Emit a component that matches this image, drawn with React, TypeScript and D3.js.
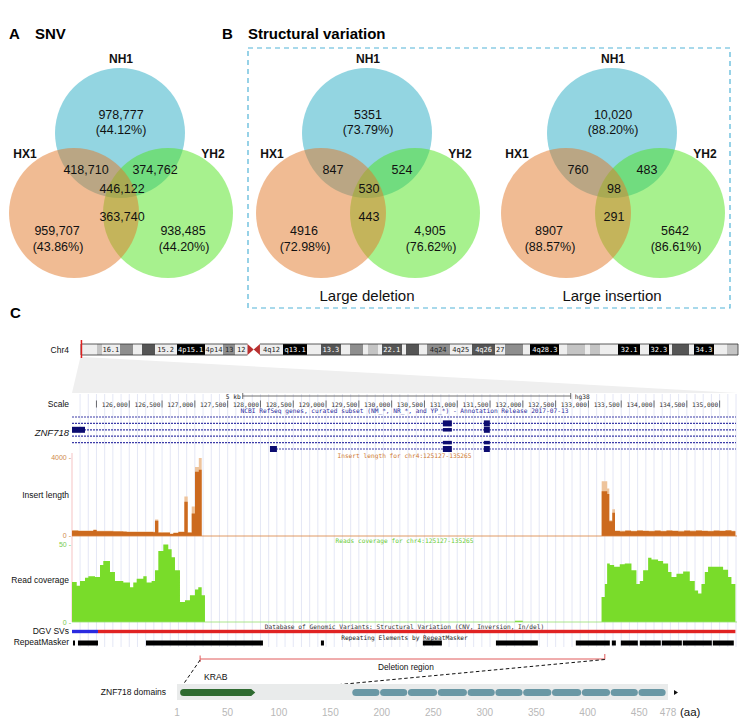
import React from 'react';
import * as d3 from 'd3';

const FONT = 'Liberation Sans, Arial, Helvetica, sans-serif';
const MONO = 'DejaVu Sans Mono, Liberation Mono, monospace';

// ---------- Panel A / B : Venn data ----------
const vennSetNames = ['NH1', 'HX1', 'YH2'];
const snvUnique = ['978,777', '959,707', '938,485'];
const snvUniquePct = ['(44.12%)', '(43.86%)', '(44.20%)'];
const snvShared = ['418,710', '374,762', '446,122', '363,740']; // NH1∩HX1, NH1∩YH2, all three, HX1∩YH2
const delUnique = ['5351', '4916', '4,905'];
const delUniquePct = ['(73.79%)', '(72.98%)', '(76.62%)'];
const delShared = ['847', '524', '530', '443'];
const insUnique = ['10,020', '8907', '5642'];
const insUniquePct = ['(88.20%)', '(88.57%)', '(86.61%)'];
const insShared = ['760', '483', '98', '291'];

// ---------- Panel C : chromosome 4 ideogram (Mb) ----------
const chr4Length = 190.21;
const chr4Bands: [number, number, string, string][] = [
  [0, 4.5, 'gneg', ''], [4.5, 6, 'gpos25', ''], [6, 11.3, 'gneg', '16.1'], [11.3, 15, 'gpos50', ''],
  [15, 17.7, 'gneg', ''], [17.7, 21.3, 'gpos75', ''], [21.3, 27.7, 'gneg', '15.2'], [27.7, 35.8, 'gpos100', '4p15.1'],
  [35.8, 41.2, 'gneg', '4p14'], [41.2, 44.6, 'gpos50', '13'], [44.6, 48.2, 'gneg', '12'], [48.2, 50, 'acenp', ''],
  [50, 51.8, 'acenq', ''], [51.8, 58.5, 'gneg', '4q12'], [58.5, 65.5, 'gpos100', 'q13.1'], [65.5, 69.4, 'gneg', ''],
  [69.4, 75.3, 'gpos75', '13.3'], [75.3, 78, 'gneg', ''], [78, 81.5, 'gpos50', ''], [81.5, 83.2, 'gneg', ''],
  [83.2, 86, 'gpos25', ''], [86, 87.1, 'gneg', ''], [87.1, 92.8, 'gpos75', '22.1'], [92.8, 94.2, 'gneg', ''],
  [94.2, 97.9, 'gpos75', ''], [97.9, 100.1, 'gneg', ''], [100.1, 106.7, 'gpos50', '4q24'], [106.7, 113.2, 'gneg', '4q25'],
  [113.2, 119.9, 'gpos75', '4q26'], [119.9, 122.8, 'gneg', '27'], [122.8, 127.9, 'gpos50', ''], [127.9, 130.1, 'gneg', ''],
  [130.1, 138.5, 'gpos100', '4q28.3'], [138.5, 140.6, 'gneg', ''], [140.6, 145.9, 'gpos25', ''], [145.9, 147.5, 'gneg', ''],
  [147.5, 150.3, 'gpos25', ''], [150.3, 155.6, 'gneg', ''], [155.6, 161.8, 'gpos100', '32.1'], [161.8, 164.5, 'gneg', ''],
  [164.5, 170.1, 'gpos100', '32.3'], [170.1, 171.2, 'gneg', ''], [171.2, 176.1, 'gpos75', ''], [176.1, 177.5, 'gneg', ''],
  [177.5, 183.2, 'gpos100', '34.3'], [183.2, 187.1, 'gneg', ''], [187.1, 190.21, 'gpos25', ''],
];
const highlightMb = 0.13;

// ---------- genome window (bp) ----------
const regionStart = 125127;
const regionEnd = 135265;
const scaleBar = [127730, 132730];

// gene transcripts: [txStart, txEnd]
const txStarts = [125127, 125127, 125127, 125127, 125127, 128145];
const txEnds = [135265, 135265, 135265, 135265, 135265, 135265];
// exons: [row, start, end, thick(1)/thin(0)]
const exons: [number, number, number, number][] = [
  [1, 130781, 130918, 1], [1, 131406, 131497, 1],
  [2, 125127, 125325, 1], [2, 130781, 130918, 0], [2, 131406, 131497, 1],
  [4, 130781, 130918, 0], [4, 131406, 131497, 0],
  [5, 128145, 128251, 1], [5, 130781, 130918, 1], [5, 131406, 131497, 1],
];

// insert length bins (start bp), value and max
const insertStarts = [125127, 125223, 125275, 125452, 125503, 125757, 125909, 125961, 126164, 126367, 126392, 126443, 126519, 126621, 126672, 126748, 126840, 126891, 126952, 127002, 127060, 127104,
  133202, 133287, 133318, 133364, 133405, 133480, 133560, 133650, 133740, 133830, 133920, 134010, 134100, 134190, 134280, 134370, 134460, 134550, 134640, 134730, 134820, 134910, 135000, 135090, 135180];
const insertValues = [270, 250, 255, 300, 240, 225, 210, 205, 205, 190, 770, 170, 170, 100, 150, 200, 1730, 170, 1140, 3250, 3350, 0,
  2270, 2130, 750, 1180, 250, 230, 260, 240, 270, 250, 235, 260, 240, 270, 250, 230, 265, 245, 270, 250, 235, 265, 250, 275, 240];
const insertMax = [300, 280, 280, 330, 270, 250, 240, 230, 230, 220, 840, 200, 200, 130, 180, 230, 2000, 200, 1500, 3500, 3950, 0,
  2770, 2400, 800, 1350, 280, 260, 290, 270, 300, 280, 265, 290, 270, 300, 280, 260, 295, 275, 300, 280, 265, 295, 280, 305, 270];
const insertEnd = 135240;

// read coverage bins
const covStarts = [125127, 125199, 125249, 125325, 125376, 125478, 125554, 125604, 125706, 125782, 125909, 126011, 126061, 126113, 126214, 126265, 126341, 126392, 126443, 126519, 126595, 126646, 126697, 126773, 126849, 126925, 127002, 127052, 127104, 127154,
  131880, 132000,
  133200, 133250, 133285, 133326, 133392, 133478, 133554, 133656, 133732, 133783, 133834, 133910, 133961, 134062, 134139, 134215, 134266, 134342, 134444, 134545, 134621, 134672, 134723, 134774, 134824, 134900, 134977, 135053, 135129, 135180];
const covValues = [25.3, 23, 26, 28, 29, 28.5, 36, 38.6, 31.7, 26, 25, 22, 25, 27.4, 29, 25, 26, 32.7, 45, 49, 46, 41, 32.7, 12.7, 13.7, 17, 20.5, 22, 17, 0,
  0.8, 0,
  15.8, 24, 37, 36, 35, 36.5, 37, 32.7, 24, 26, 32.7, 40.7, 39.5, 38.6, 37, 31.7, 28.5, 30.6, 32, 26, 20, 18, 24, 31.7, 35, 35, 35, 33, 28.5, 24];
const covEnd = 135240;

// DGV SVs
const dgvStarts = [125127, 125523];
const dgvEnds = [125523, 135240];
const dgvColors = ['#2a2ae0', '#e02222'];

// RepeatMasker elements
const rmStarts = [125142, 125218, 126255, 128922, 130476, 131590, 132808, 133357, 133494, 133783, 134119, 134439, 134896];
const rmEnds = [125173, 125523, 128038, 128968, 130766, 132229, 133326, 133418, 133753, 134103, 134424, 134881, 135216];

// deletion region (bp)
const deletionRegion = [127080, 133250];

// protein domains (aa)
const proteinLength = 478;
const krabDomain = [4, 77];
const zfStarts = [171, 198, 225, 254, 283, 310, 337, 365, 394, 422, 449];
const zfEnd = 476;
const aaTicks = [1, 50, 100, 150, 200, 250, 300, 350, 400, 450, 478];

const bandFill: Record<string, string> = {
  gneg: '#eeeeee', gpos25: '#c4c4c4', gpos50: '#8e8e8e', gpos75: '#555555', gpos100: '#000000',
};

type Bin = { s: number; v: number };

function Venn({ cx, unique, pct, shared, title }: { cx: number; unique: string[]; pct: string[]; shared: string[]; title: string }) {
  const r = 65;
  const cyTop = 133, cyBot = 213;
  const circles = [
    { name: 'NH1', x: cx, y: cyTop, fill: 'rgb(40,172,196)' },
    { name: 'YH2', x: cx + 48, y: cyBot, fill: 'rgb(80,228,30)' },
    { name: 'HX1', x: cx - 46, y: cyBot, fill: 'rgb(225,120,40)' },
  ];
  const t = (x: number, y: number, s: string, bold = false, size = 12.5) => (
    <text x={x} y={y} textAnchor="middle" dominantBaseline="central" fontFamily={FONT} fontSize={size} fontWeight={bold ? 'bold' : 'normal'} fill="#111">{s}</text>
  );
  return (
    <g>
      {circles.map((c) => <circle key={c.name} cx={c.x} cy={c.y} r={r} fill={c.fill} fillOpacity={0.5} />)}
      {t(cx + 1, 59, vennSetNames[0], true, 12)}
      {t(cx - 95, 154, vennSetNames[1], true, 12)}
      {t(cx + 93, 154, vennSetNames[2], true, 12)}
      {t(cx + 1, 115, unique[0])}
      {t(cx + 1, 130, pct[0])}
      {t(cx - 63, 231, unique[1])}
      {t(cx - 62, 247, pct[1])}
      {t(cx + 63, 231, unique[2])}
      {t(cx + 64, 247, pct[2])}
      {t(cx - 34, 170, shared[0])}
      {t(cx + 35, 170, shared[1])}
      {t(cx + 2, 189, shared[2])}
      {t(cx + 2, 217, shared[3])}
      {title && t(cx, 295, title, false, 15)}
    </g>
  );
}

export default function App() {
  const xG = d3.scaleLinear().domain([regionStart, regionEnd]).range([72, 737]);
  const chrX = d3.scaleLinear().domain([0, chr4Length]).range([81, 738]);
  const yIns = d3.scaleLinear().domain([0, 4000]).range([536, 457]);
  const yCov = d3.scaleLinear().domain([0, 50]).range([622, 543]);
  const xAA = d3.scaleLinear().domain([1, proteinLength]).range([177, 668]);

  const gridlines = d3.range(125250, regionEnd, 125);
  const scaleTicks = d3.range(125500, 135001, 500);
  const fmt = d3.format(',');

  const ideoY = 344, ideoH = 11;
  const centerX = 404.5;
  const rowY = (i: number) => 417 + i * 6.4;

  const insVal: Bin[] = insertStarts.map((s, i) => ({ s, v: insertValues[i] }));
  insVal.push({ s: insertEnd, v: 0 });
  const insMx: Bin[] = insertStarts.map((s, i) => ({ s, v: insertMax[i] }));
  insMx.push({ s: insertEnd, v: 0 });
  const cov: Bin[] = covStarts.map((s, i) => ({ s, v: covValues[i] }));
  cov.push({ s: covEnd, v: 0 });

  const insArea = d3.area<Bin>().x((d) => xG(d.s)).y0(yIns(0)).y1((d) => yIns(d.v)).curve(d3.curveStepAfter);
  const covArea = d3.area<Bin>().x((d) => xG(d.s)).y0(yCov(0)).y1((d) => yCov(d.v)).curve(d3.curveStepAfter);

  const hx = chrX(highlightMb);
  const lbl = (x: number, y: number, s: string, extra: any = {}) => (
    <text x={x} y={y} textAnchor="end" dominantBaseline="central" fontFamily={FONT} fontSize={8.5} fill="#111" {...extra}>{s}</text>
  );
  const tiny = (x: number, y: number, s: string, fill: string, anchor = 'middle') => (
    <text x={x} y={y} textAnchor={anchor} dominantBaseline="central" fontFamily={MONO} fontSize={6.2} fill={fill}>{s}</text>
  );
  const axisLbl = (y: number, s: string, fill: string) => (
    <text x={71} y={y} textAnchor="end" dominantBaseline="central" fontFamily={FONT} fontSize={7} fill={fill}>{s}</text>
  );

  const krabX0 = xAA(krabDomain[0]), krabX1 = xAA(krabDomain[1]);
  const pY = 692.5, pH = 3.6;

  return (
    <svg width={750} height={722} style={{ position: 'absolute', left: 0, top: 0, background: '#fff' }}>
      <rect x={0} y={0} width={750} height={722} fill="#fff" />
      {/* titles */}
      <text x={9} y={33} dominantBaseline="central" fontFamily={FONT} fontSize={15} fontWeight="bold">A</text>
      <text x={35} y={33} dominantBaseline="central" fontFamily={FONT} fontSize={15} fontWeight="bold">SNV</text>
      <text x={222} y={33} dominantBaseline="central" fontFamily={FONT} fontSize={15} fontWeight="bold">B</text>
      <text x={248} y={33} dominantBaseline="central" fontFamily={FONT} fontSize={15} fontWeight="bold">Structural variation</text>
      <rect x={248} y={48} width={482} height={260} fill="none" stroke="#52b4d8" strokeWidth={1.2} strokeDasharray="5,4" />

      <Venn cx={120} unique={snvUnique} pct={snvUniquePct} shared={snvShared} title="" />
      <Venn cx={367} unique={delUnique} pct={delUniquePct} shared={delShared} title="Large deletion" />
      <Venn cx={612} unique={insUnique} pct={insUniquePct} shared={insShared} title="Large insertion" />

      {/* Panel C */}
      <text x={10} y={312} dominantBaseline="central" fontFamily={FONT} fontSize={15} fontWeight="bold">C</text>

      {/* zoom wedge */}
      <polygon points={`${hx - 1},${ideoY + ideoH + 2} ${hx + 2},${ideoY + ideoH + 2} 738,393 72,393`} fill="#efefef" />

      {/* ideogram */}
      {lbl(69, ideoY + ideoH / 2, 'Chr4')}
      {chr4Bands.map(([s, e, st, l], i) => {
        const x0 = chrX(s), x1 = chrX(e);
        if (st === 'acenp') {
          return <polygon key={i} points={`${x0},${ideoY} ${x1},${ideoY + ideoH / 2} ${x0},${ideoY + ideoH}`} fill="#b83030" />;
        }
        if (st === 'acenq') {
          return <polygon key={i} points={`${x1},${ideoY} ${x0},${ideoY + ideoH / 2} ${x1},${ideoY + ideoH}`} fill="#b83030" />;
        }
        return (
          <g key={i}>
            <rect x={x0} y={ideoY} width={x1 - x0 + 0.3} height={ideoH} fill={bandFill[st]} shapeRendering="crispEdges" />
            {l && <text x={(x0 + x1) / 2} y={ideoY + ideoH / 2 + 0.5} textAnchor="middle" dominantBaseline="central" fontFamily={MONO} fontSize={7} fill={st === 'gpos75' || st === 'gpos100' ? '#fff' : '#222'}>{l}</text>}
          </g>
        );
      })}
      <path d={`M${chrX(48.2)},${ideoY} L${chrX(0)},${ideoY} L${chrX(0)},${ideoY + ideoH} L${chrX(48.2)},${ideoY + ideoH}`} fill="none" stroke="#333" strokeWidth={0.8} />
      <path d={`M${chrX(51.8)},${ideoY} L${chrX(chr4Length)},${ideoY} L${chrX(chr4Length)},${ideoY + ideoH} L${chrX(51.8)},${ideoY + ideoH}`} fill="none" stroke="#333" strokeWidth={0.8} />
      <line x1={hx} x2={hx} y1={ideoY - 4} y2={ideoY + ideoH + 3} stroke="#e02020" strokeWidth={1.5} />

      {/* gridlines */}
      {gridlines.map((g) => <line key={g} x1={xG(g)} x2={xG(g)} y1={394} y2={647} stroke="#dde1f2" strokeWidth={0.8} />)}

      {/* scale track */}
      {lbl(69, 404, 'Scale')}
      {tiny(xG(scaleBar[0]) - 2, 396, '5 kb', '#222', 'end')}
      <line x1={xG(scaleBar[0])} x2={xG(scaleBar[1])} y1={396} y2={396} stroke="#333" strokeWidth={0.7} />
      <line x1={xG(scaleBar[0])} x2={xG(scaleBar[0])} y1={393} y2={399} stroke="#333" strokeWidth={0.7} />
      <line x1={xG(scaleBar[1])} x2={xG(scaleBar[1])} y1={393} y2={399} stroke="#333" strokeWidth={0.7} />
      {tiny(xG(scaleBar[1]) + 4, 396, 'hg38', '#222', 'start')}
      {scaleTicks.map((t) => (
        <g key={t}>
          <line x1={xG(t)} x2={xG(t)} y1={400.5} y2={407.5} stroke="#333" strokeWidth={0.7} />
          {t >= 126000 && tiny(xG(t) - 1.5, 404, fmt(t), '#333', 'end')}
        </g>
      ))}
      {tiny(centerX, 410.5, 'NCBI RefSeq genes, curated subset (NM_*, NR_*, and YP_*) - Annotation Release 2017-07-13', '#2a2a9c')}

      {/* gene track */}
      {lbl(69, 432, 'ZNF718', { fontStyle: 'italic', fontSize: 9.5 })}
      {txStarts.map((s, i) => (
        <line key={i} x1={xG(s)} x2={xG(txEnds[i]) - 1} y1={rowY(i)} y2={rowY(i)} stroke="#3c3ca8" strokeWidth={1.2} strokeDasharray="2,1" />
      ))}
      {exons.map(([row, s, e, thick], i) => {
        const h = thick ? 6 : 3.5;
        return <rect key={i} x={xG(s)} y={rowY(row) - h / 2} width={xG(e) - xG(s)} height={h} fill="#0c0c70" />;
      })}

      {/* insert length track */}
      <line x1={72} x2={72} y1={453} y2={622} stroke="#f2b4b4" strokeWidth={0.8} />
      {tiny(centerX, 455, 'Insert length for chr4:125127-135265', '#d07a30')}
      {axisLbl(457, '4000 -', '#d08a4a')}
      {axisLbl(535, '0 -', '#d08a4a')}
      {lbl(69, 495, 'Insert length')}
      <path d={insArea(insMx) || ''} fill="#eec49c" />
      <path d={insArea(insVal) || ''} fill="#cc6a1e" />
      <line x1={72} x2={737} y1={yIns(0)} y2={yIns(0)} stroke="#d8823c" strokeWidth={0.8} />

      {/* read coverage track */}
      {tiny(centerX, 540.5, 'Reads coverage for chr4:125127-135265', '#6acc36')}
      {axisLbl(544, '50 -', '#7acc50')}
      {axisLbl(622, '0 -', '#7acc50')}
      {lbl(69, 580, 'Read coverage')}
      <path d={covArea(cov) || ''} fill="#79dc2a" />
      <line x1={72} x2={737} y1={yCov(0)} y2={yCov(0)} stroke="#98e070" strokeWidth={0.8} />

      {/* DGV */}
      {tiny(centerX, 626, 'Database of Genomic Variants: Structural Variation (CNV, Inversion, In/del)', '#333')}
      {lbl(69, 631, 'DGV SVs')}
      {dgvStarts.map((s, i) => (
        <rect key={i} x={xG(s)} y={629.8} width={xG(dgvEnds[i]) - xG(s)} height={3.4} fill={dgvColors[i]} />
      ))}

      {/* RepeatMasker */}
      {tiny(centerX, 637, 'Repeating Elements by RepeatMasker', '#222')}
      {lbl(69, 642, 'RepeatMasker')}
      {rmStarts.map((s, i) => (
        <rect key={i} x={xG(s)} y={640.5} width={Math.max(1.2, xG(rmEnds[i]) - xG(s))} height={5} fill="#000" />
      ))}

      {/* deletion region */}
      <line x1={xG(deletionRegion[0])} x2={xG(deletionRegion[1])} y1={659} y2={659} stroke="#e05a5a" strokeWidth={1} />
      <line x1={xG(deletionRegion[0])} x2={xG(deletionRegion[0])} y1={655.5} y2={662} stroke="#e05a5a" strokeWidth={1} />
      <line x1={xG(deletionRegion[1])} x2={xG(deletionRegion[1])} y1={654} y2={659.5} stroke="#e05a5a" strokeWidth={1} />
      <text x={378} y={667} dominantBaseline="central" fontFamily={FONT} fontSize={8.3} fill="#111">Deletion region</text>
      <line x1={xG(deletionRegion[0])} y1={660} x2={xAA(krabDomain[0])} y2={689} stroke="#111" strokeWidth={1} strokeDasharray="3.5,2.5" />
      <line x1={xG(deletionRegion[1])} y1={659.5} x2={krabX1} y2={pY} stroke="#111" strokeWidth={1} strokeDasharray="3.5,2.5" />

      {/* protein domains */}
      {lbl(166, 692, 'ZNF718 domains', { fontSize: 8.5 })}
      <rect x={xAA(1)} y={684} width={xAA(proteinLength) - xAA(1)} height={16} fill="#e9ebeb" />
      <text x={xAA(krabDomain[0]) + 24} y={677} dominantBaseline="central" fontFamily={FONT} fontSize={8.6} fill="#111">KRAB</text>
      <path d={`M${krabX0 + pH},${pY - pH} L${krabX1 - 4},${pY - pH} L${krabX1},${pY} L${krabX1 - 4},${pY + pH} L${krabX0 + pH},${pY + pH} A${pH},${pH} 0 0 1 ${krabX0 + pH},${pY - pH} Z`} fill="#2f6b31" />
      {zfStarts.map((s, i) => {
        const e = i < zfStarts.length - 1 ? zfStarts[i + 1] : zfEnd;
        const x0 = xAA(s), x1 = xAA(e);
        return <rect key={i} x={x0 + 0.3} y={pY - pH} width={x1 - x0 - 0.6} height={pH * 2} rx={pH} ry={pH} fill="#6a98a5" />;
      })}
      <polygon points={`${xAA(proteinLength) + 6},${pY - 2.5} ${xAA(proteinLength) + 10},${pY} ${xAA(proteinLength) + 6},${pY + 2.5}`} fill="#111" />
      {aaTicks.map((t) => (
        <text key={t} x={xAA(t)} y={712} textAnchor="middle" dominantBaseline="central" fontFamily={FONT} fontSize={10} fill="#b8b8b8">{t}</text>
      ))}
      <text x={680} y={712} dominantBaseline="central" fontFamily={FONT} fontSize={11.5} fill="#111">(aa)</text>
    </svg>
  );
}
